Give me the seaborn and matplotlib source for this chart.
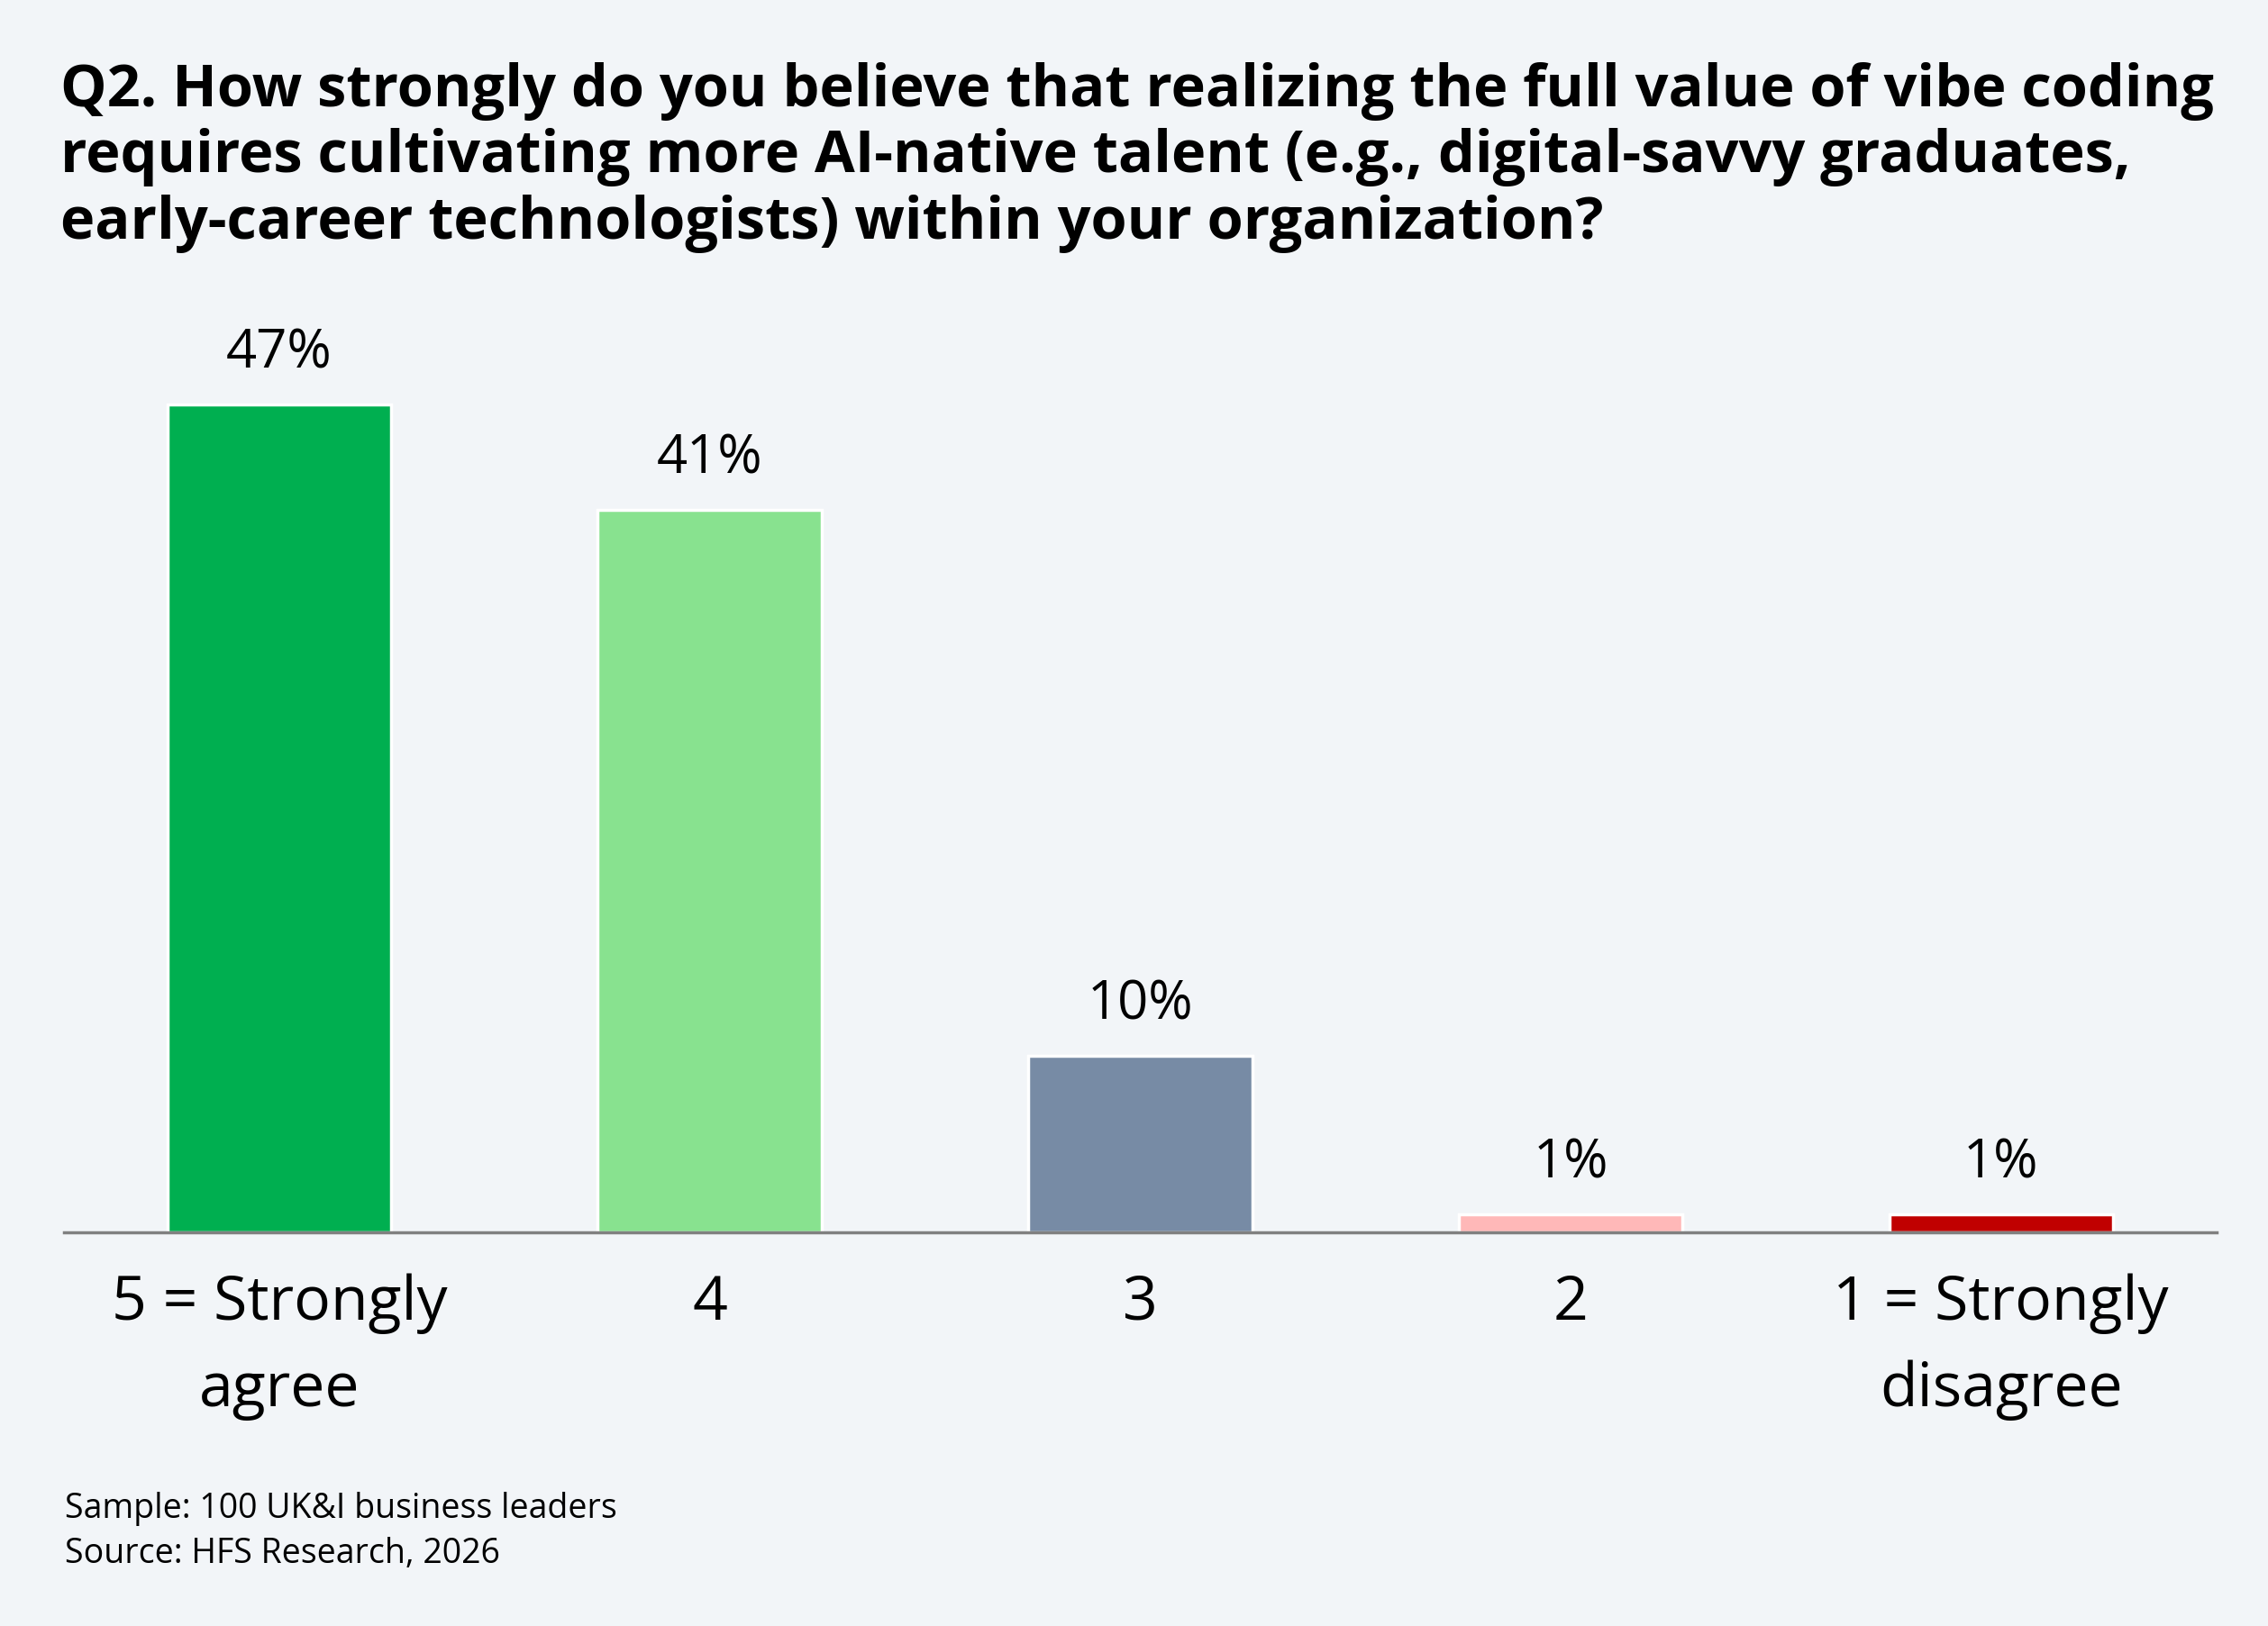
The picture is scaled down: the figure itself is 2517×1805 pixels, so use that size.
import matplotlib
matplotlib.use("Agg")
import matplotlib.pyplot as plt
import seaborn as sns
import pandas as pd

# data
categories = ["5 = Strongly\nagree", "4", "3", "2", "1 = Strongly\ndisagree"]
shares = [47, 41, 10, 1, 1]
bar_colors = ["#00AF50", "#88E28F", "#778BA5", "#FFB8B8", "#C00000"]

title = ("Q2. How strongly do you believe that realizing the full value of vibe coding\n"
         "requires cultivating more AI-native talent (e.g., digital-savvy graduates,\n"
         "early-career technologists) within your organization?")
notes = ["Sample: 100 UK&I business leaders", "Source: HFS Research, 2026"]

BG = "#F2F5F8"


def plot_chart():
    sns.set_theme(style="white")
    plt.rcParams["font.family"] = ["Open Sans", "DejaVu Sans"]
    plt.rcParams["text.color"] = "black"

    df = pd.DataFrame({"answer": categories, "share": shares})

    fig = plt.figure(figsize=(25.17, 18.06), dpi=100, facecolor=BG)
    ax = fig.add_axes([0.0282, 0.242, 0.949, 0.59])
    ax.set_facecolor(BG)

    sns.barplot(data=df, x="answer", y="share", hue="answer",
                palette=bar_colors, saturation=1, width=0.52, legend=False,
                edgecolor="white", linewidth=2.5, ax=ax)

    # percentage above each bar
    for cont in ax.containers:
        ax.bar_label(cont, labels=[f"{v:.0f}%" for v in cont.datavalues],
                     padding=20, fontsize=43, color="black")

    ax.set_xlim(-0.5, 4.5)
    ax.set_ylim(0, 54.5)
    ax.set_xlabel("")
    ax.set_ylabel("")
    ax.set_yticks([])
    for side in ["top", "right", "left"]:
        ax.spines[side].set_visible(False)
    ax.spines["bottom"].set_color("#808080")
    ax.spines["bottom"].set_linewidth(2.5)
    ax.tick_params(axis="x", length=0, pad=32, labelsize=49, labelcolor="black")
    for lbl in ax.get_xticklabels():
        lbl.set_linespacing(1.55)
        lbl.set_verticalalignment("top")

    fig.text(0.0266, 0.962, title, fontsize=46.7, fontweight="bold",
             va="top", ha="left", linespacing=1.18, color="black")
    fig.text(0.0286, 0.083, notes[0] + "\n" + notes[1], fontsize=27,
             va="top", ha="left", linespacing=1.4, color="black")

    fig.savefig("out.png", dpi=100, facecolor=BG)


if __name__ == "__main__":
    plot_chart()
